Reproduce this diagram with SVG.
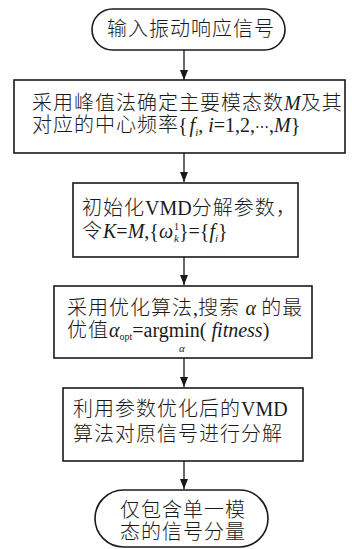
<svg xmlns="http://www.w3.org/2000/svg" width="352" height="549" viewBox="0 0 352 549">
<style>
.box{fill:#fff;stroke:#1a1a1a;stroke-width:1.6}
.edge{fill:none;stroke:#1a1a1a;stroke-width:1.3}
.t{font-family:"Noto Sans CJK SC","Noto Sans",sans-serif;font-size:20px;font-weight:300;fill:#1a1a1a;letter-spacing:1px}
.r{font-family:"Liberation Serif",serif;font-size:20px;font-weight:400;letter-spacing:0}
.i{font-family:"Liberation Serif",serif;font-style:italic;font-size:20px;font-weight:400;letter-spacing:0}
.s{font-family:"Liberation Serif",serif;font-size:10px;font-weight:400;letter-spacing:0}
.si{font-family:"Liberation Serif",serif;font-style:italic;font-size:11px;font-weight:400;letter-spacing:0}
</style>
<defs>
<marker id="ah" viewBox="0 0 10 8" refX="10" refY="4" markerWidth="10" markerHeight="8" markerUnits="userSpaceOnUse" orient="auto">
<path d="M0,0 L10,4 L0,8 Z" fill="#1a1a1a"/>
</marker>
</defs>
<g id="connectors">
<line class="edge" x1="184" y1="50" x2="184" y2="80" marker-end="url(#ah)"/>
<line class="edge" x1="184" y1="153" x2="184" y2="182" marker-end="url(#ah)"/>
<line class="edge" x1="184" y1="257" x2="184" y2="285" marker-end="url(#ah)"/>
<line class="edge" x1="184" y1="358" x2="184" y2="387" marker-end="url(#ah)"/>
<line class="edge" x1="184" y1="461" x2="184" y2="489" marker-end="url(#ah)"/>
</g>
<g id="start">
<rect class="box" x="92" y="9" width="193" height="41" rx="20.5"/>
<text class="t" x="107" y="36">输入振动响应信号</text>
</g>
<g id="peak">
<rect class="box" x="14" y="80" width="331" height="73"/>
<text class="t" x="32" y="110">采用峰值法确定主要模态数<tspan class="i" font-size="21">M</tspan>及其</text>
<text class="t" x="32" y="132">对应的中心频率</text>
<text class="r" x="178" y="132" fill="#1a1a1a" letter-spacing="-0.3">{<tspan class="i" dx="2">f</tspan><tspan class="si" dy="4">i</tspan><tspan dy="-4">, </tspan><tspan class="i">i</tspan>=1,2,<tspan font-family="DejaVu Serif" font-size="14">⋯</tspan>,<tspan class="i">M</tspan>}</text>
</g>
<g id="init">
<rect class="box" x="73" y="183" width="225" height="74"/>
<text class="t" x="82" y="215" letter-spacing="0">初始化<tspan class="r">VMD</tspan>分解参数，</text>
<text class="t" x="82" y="238" letter-spacing="0">令<tspan class="i">K</tspan><tspan class="r">=</tspan><tspan class="i">M</tspan><tspan class="r">,{</tspan><tspan class="i">ω</tspan><tspan class="s" dy="-8" dx="1">1</tspan><tspan class="si" dx="-5" dy="12">k</tspan><tspan class="r" dy="-4">}={</tspan><tspan class="i">f</tspan><tspan class="si" dy="4">i</tspan><tspan class="r" dy="-4">}</tspan></text>
</g>
<g id="optimize">
<rect class="box" x="54" y="286" width="258" height="72"/>
<text class="t" x="67" y="315">采用优化算法<tspan class="r">,</tspan>搜索 <tspan class="i">α</tspan> 的最</text>
<text class="t" x="67" y="337">优值<tspan class="i">α</tspan><tspan class="s" dy="3">opt</tspan><tspan class="r" dy="-3">=argmin( </tspan><tspan class="i">fitness</tspan><tspan class="r">)</tspan></text>
<text class="si" x="182" y="352" text-anchor="middle" fill="#1a1a1a">α</text>
</g>
<g id="decompose">
<rect class="box" x="63" y="388" width="240" height="73"/>
<text class="t" x="73" y="416">利用参数优化后的<tspan class="r" font-size="21">VMD</tspan></text>
<text class="t" x="73" y="441">算法对原信号进行分解</text>
</g>
<g id="end">
<rect class="box" x="95" y="490" width="173" height="57" rx="28.5"/>
<text class="t" x="120" y="517">仅包含单一模</text>
<text class="t" x="120" y="539">态的信号分量</text>
</g>
</svg>
